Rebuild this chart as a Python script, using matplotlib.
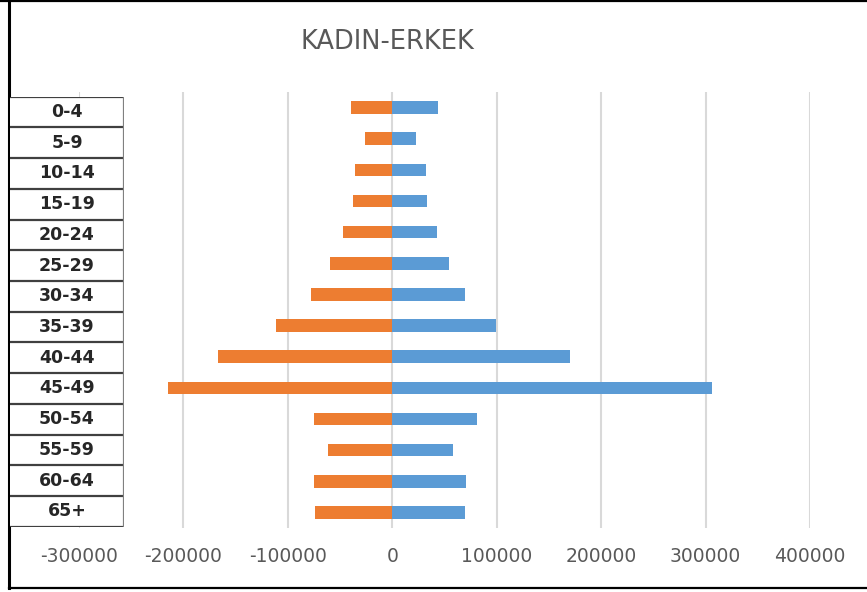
import matplotlib.pyplot as plt
from matplotlib.lines import Line2D
import numpy as np

# age groups, top to bottom
age_groups = ["0-4", "5-9", "10-14", "15-19", "20-24", "25-29", "30-34",
              "35-39", "40-44", "45-49", "50-54", "55-59", "60-64", "65+"]

# kadin (left, negative) and erkek (right) values
kadin = [-39500, -26100, -35400, -37300, -46900, -59600, -77500,
         -111400, -166700, -214600, -74900, -61500, -75300, -74300]
erkek = [44000, 22300, 31900, 32800, 42800, 53900, 69900,
         99600, 170300, 306200, 81000, 57700, 70800, 69500]

x_ticks = [-300000, -200000, -100000, 0, 100000, 200000, 300000, 400000]

W, H = 867, 592
fig = plt.figure(figsize=(W / 100, H / 100), dpi=100)

# main bar axes
ax = fig.add_axes([79 / W, 1 - 528 / H, 731 / W, 436 / H])
y = np.arange(len(age_groups))
ax.barh(y, kadin, height=0.4, color="#ED7D31", zorder=3)
ax.barh(y, erkek, height=0.4, color="#5B9BD5", zorder=3)
ax.set_xlim(-300000, 400000)
ax.set_ylim(len(age_groups) - 0.5, -0.5)
ax.set_xticks(x_ticks)
ax.set_xticklabels([str(v) for v in x_ticks])
ax.set_yticks([])
ax.tick_params(axis="x", length=0, pad=14, labelsize=13.5, labelcolor="#595959")
ax.grid(axis="x", color="#d9d9d9", linewidth=1.5, zorder=0)
for s in ax.spines.values():
    s.set_visible(False)

# label table on the left
tab = fig.add_axes([10 / W, 1 - 526.7 / H, 114 / W, 430 / H])
tab.set_zorder(5)
tab.set_xlim(0, 1)
tab.set_ylim(len(age_groups), 0)
tab.set_xticks([])
tab.set_yticks([])
tab.set_facecolor("white")
for s in tab.spines.values():
    s.set_visible(False)
for i in range(len(age_groups) + 1):
    tab.axhline(i, color="#404040", linewidth=1.6)
tab.axvline(1, color="#808080", linewidth=1.6)
for i, lab in enumerate(age_groups):
    tab.text(0.5, i + 0.5, lab, ha="center", va="center",
             fontsize=12.5, fontweight="bold", color="#262626")

# title
fig.text(387 / W, 1 - 42 / H, "KADIN-ERKEK", ha="center", va="center",
         fontsize=18.5, color="#595959")

# outer frame (top, left, bottom)
fig.add_artist(Line2D([0, 1], [1 - 1 / H, 1 - 1 / H], color="black", linewidth=1.6))
fig.add_artist(Line2D([8.5 / W, 8.5 / W], [1 - 1 / H, 1 - 588 / H], color="black", linewidth=2.2))
fig.add_artist(Line2D([8.5 / W, 1], [1 - 588 / H, 1 - 588 / H], color="black", linewidth=1.6))

fig.savefig("out.png", dpi=100)
